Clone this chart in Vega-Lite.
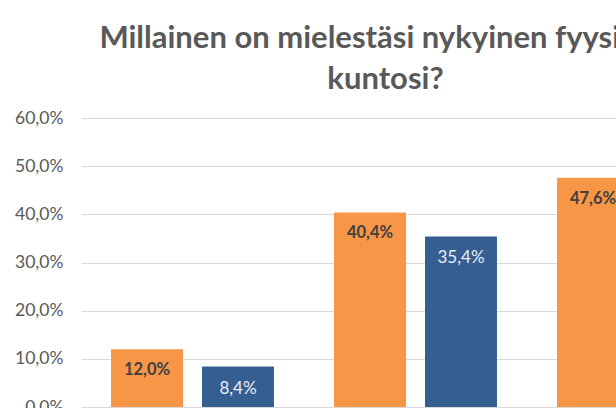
{
  "$schema": "https://vega.github.io/schema/vega-lite/v6.json",
  "width": 535,
  "height": 289,
  "autosize": {"type": "none"},
  "padding": {"left": 81, "top": 118, "right": 0, "bottom": 1},
  "background": "white",
  "title": {
    "text": ["Millainen on mielestäsi nykyinen fyysinen", "kuntosi?"],
    "font": "Lato",
    "fontSize": 31,
    "fontWeight": "bold",
    "color": "#595959",
    "anchor": "middle",
    "dx": 37,
    "lineHeight": 41,
    "offset": 13
  },
  "data": {
    "values": [
      {"luokka": "Huono", "sarja": "Tytöt", "osuus": 0.12},
      {"luokka": "Huono", "sarja": "Pojat", "osuus": 0.084},
      {"luokka": "Kohtalainen", "sarja": "Tytöt", "osuus": 0.404},
      {"luokka": "Kohtalainen", "sarja": "Pojat", "osuus": 0.354},
      {"luokka": "Hyvä", "sarja": "Tytöt", "osuus": 0.476},
      {"luokka": "Hyvä", "sarja": "Pojat", "osuus": 0.562}
    ]
  },
  "encoding": {
    "x": {
      "field": "luokka",
      "type": "nominal",
      "sort": ["Huono", "Kohtalainen", "Hyvä"],
      "scale": {"range": [0, 669], "paddingInner": 0, "paddingOuter": 0},
      "axis": null
    },
    "xOffset": {
      "field": "sarja",
      "type": "nominal",
      "sort": ["Tytöt", "Pojat"],
      "scale": {"paddingInner": 0.209, "paddingOuter": 0.33}
    },
    "y": {
      "field": "osuus",
      "type": "quantitative",
      "scale": {"domain": [0, 0.6], "nice": false},
      "axis": {
        "title": null,
        "values": [0, 0.1, 0.2, 0.3, 0.4, 0.5, 0.6],
        "format": ".1%",
        "labelFont": "Lato",
        "labelFontSize": 17.5,
        "labelColor": "#595959",
        "labelPadding": 18,
        "ticks": false,
        "domain": false,
        "grid": true,
        "gridColor": "#d9d9d9",
        "gridWidth": 1
      }
    }
  },
  "layer": [
    {
      "mark": {"type": "bar"},
      "encoding": {
        "color": {
          "field": "sarja",
          "type": "nominal",
          "sort": ["Tytöt", "Pojat"],
          "scale": {"domain": ["Tytöt", "Pojat"], "range": ["#F79646", "#365F91"]},
          "legend": null
        }
      }
    },
    {
      "transform": [{"filter": "datum.sarja === 'Tytöt'"}],
      "mark": {"type": "text", "font": "Lato", "fontSize": 16.5, "fontWeight": "bold", "baseline": "middle", "dy": 21, "color": "#404040"},
      "encoding": {
        "text": {"field": "osuus", "type": "quantitative", "format": ".1%"}
      }
    },
    {
      "transform": [{"filter": "datum.sarja === 'Pojat'"}],
      "mark": {"type": "text", "font": "Lato", "fontSize": 17, "fontWeight": "normal", "baseline": "middle", "dy": 22, "color": "#e8eef5"},
      "encoding": {
        "text": {"field": "osuus", "type": "quantitative", "format": ".1%"}
      }
    }
  ],
  "config": {
    "locale": {"number": {"decimal": ",", "thousands": "\u00a0", "grouping": [3], "currency": ["", "\u00a0€"]}},
    "view": {"stroke": null}
  }
}
